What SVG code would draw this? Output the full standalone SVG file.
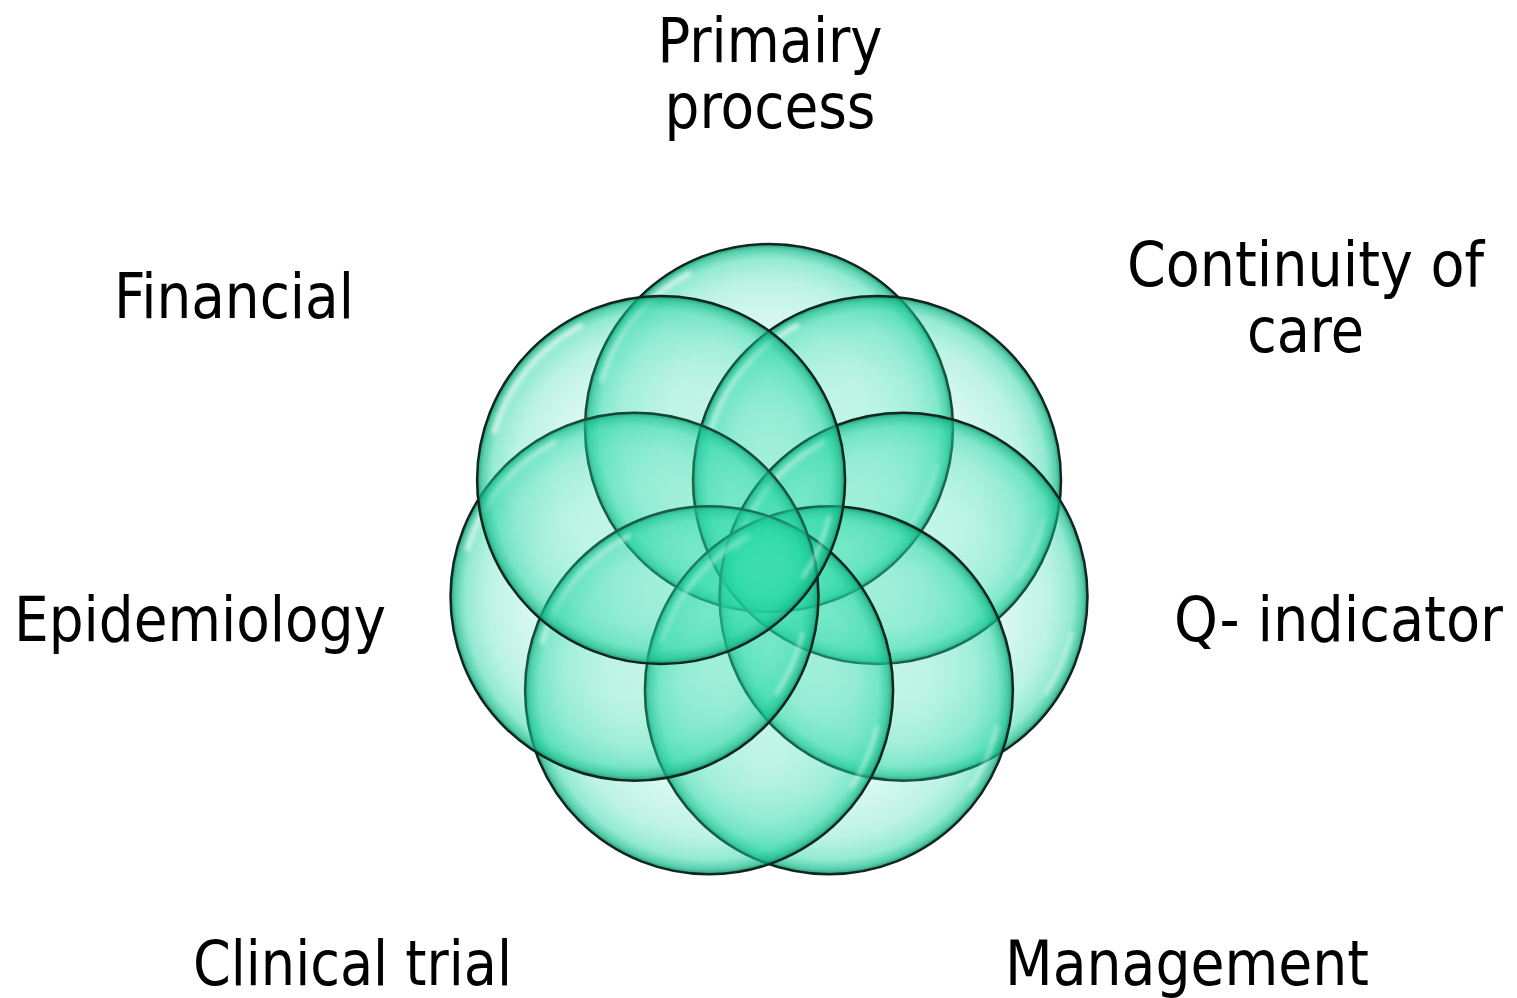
<svg xmlns="http://www.w3.org/2000/svg" xmlns:xlink="http://www.w3.org/1999/xlink" width="1517" height="998" viewBox="0 0 1517 998">
  <style>
    .lbl { font-family: "DejaVu Sans Condensed", "DejaVu Sans", Tahoma, Verdana, sans-serif; font-stretch: condensed; font-size: 62px; fill: #000; text-anchor: middle; }
    .ring { fill: url(#bubble); stroke: #10261f; stroke-width: 2.5; }
    .hl { fill: none; stroke: #ffffff; stroke-linecap: round; filter: url(#soft); }
  </style>
  <defs>
    <radialGradient id="bubble" cx="0.5" cy="0.5" r="0.5">
      <stop offset="0" stop-color="#34dfae" stop-opacity="0.12"/>
      <stop offset="0.55" stop-color="#30ddac" stop-opacity="0.18"/>
      <stop offset="0.8" stop-color="#26d8a5" stop-opacity="0.31"/>
      <stop offset="0.92" stop-color="#1fd4a0" stop-opacity="0.48"/>
      <stop offset="0.975" stop-color="#15bb8b" stop-opacity="0.72"/>
      <stop offset="1" stop-color="#0b8a64" stop-opacity="0.88"/>
    </radialGradient>
    <filter id="soft" x="-20%" y="-20%" width="140%" height="140%">
      <feGaussianBlur stdDeviation="2"/>
    </filter>
    <path id="hlA" d="M -167 -48 A 174 174 0 0 1 -80 -154.5" />
    <path id="hlB" d="M 168 37 A 172 172 0 0 1 142 97" />
  </defs>
  <rect width="1517" height="998" fill="#ffffff"/>

  <g id="node-primairy-process">
    <g transform="translate(769,428)">
      <circle class="ring" r="184"/>
      <use xlink:href="#hlA" class="hl" stroke-width="5" opacity="0.7"/>
      <use xlink:href="#hlB" class="hl" stroke-width="3.5" opacity="0.5"/>
    </g>
    <text class="lbl" x="770" y="62" textLength="225" lengthAdjust="spacingAndGlyphs">Primairy</text>
    <text class="lbl" x="770" y="128" textLength="211" lengthAdjust="spacingAndGlyphs">process</text>
  </g>

  <g id="node-continuity-of-care">
    <g transform="translate(877,480)">
      <circle class="ring" r="184"/>
      <use xlink:href="#hlA" class="hl" stroke-width="5" opacity="0.7"/>
      <use xlink:href="#hlB" class="hl" stroke-width="3.5" opacity="0.5"/>
    </g>
    <text class="lbl" x="1305.5" y="286" textLength="357" lengthAdjust="spacingAndGlyphs">Continuity of</text>
    <text class="lbl" x="1305.5" y="352" textLength="117" lengthAdjust="spacingAndGlyphs">care</text>
  </g>

  <g id="node-q-indicator">
    <g transform="translate(903.5,596.7)">
      <circle class="ring" r="184"/>
      <use xlink:href="#hlA" class="hl" stroke-width="5" opacity="0.7"/>
      <use xlink:href="#hlB" class="hl" stroke-width="3.5" opacity="0.5"/>
    </g>
    <text class="lbl" x="1338.5" y="641" textLength="329" lengthAdjust="spacingAndGlyphs">Q- indicator</text>
  </g>

  <g id="node-management">
    <g transform="translate(828.9,690.3)">
      <circle class="ring" r="184"/>
      <use xlink:href="#hlA" class="hl" stroke-width="5" opacity="0.7"/>
      <use xlink:href="#hlB" class="hl" stroke-width="3.5" opacity="0.5"/>
    </g>
    <text class="lbl" x="1187" y="985" textLength="364" lengthAdjust="spacingAndGlyphs">Management</text>
  </g>

  <g id="node-clinical-trial">
    <g transform="translate(709.1,690.3)">
      <circle class="ring" r="184"/>
      <use xlink:href="#hlA" class="hl" stroke-width="5" opacity="0.7"/>
      <use xlink:href="#hlB" class="hl" stroke-width="3.5" opacity="0.5"/>
    </g>
    <text class="lbl" x="352.5" y="985" textLength="319" lengthAdjust="spacingAndGlyphs">Clinical trial</text>
  </g>

  <g id="node-epidemiology">
    <g transform="translate(634.5,596.7)">
      <circle class="ring" r="184"/>
      <use xlink:href="#hlA" class="hl" stroke-width="5" opacity="0.7"/>
      <use xlink:href="#hlB" class="hl" stroke-width="3.5" opacity="0.5"/>
    </g>
    <text class="lbl" x="200" y="641" textLength="372" lengthAdjust="spacingAndGlyphs">Epidemiology</text>
  </g>

  <g id="node-financial">
    <g transform="translate(661.1,480)">
      <circle class="ring" r="184"/>
      <use xlink:href="#hlA" class="hl" stroke-width="5" opacity="0.7"/>
      <use xlink:href="#hlB" class="hl" stroke-width="3.5" opacity="0.5"/>
    </g>
    <text class="lbl" x="234" y="318" textLength="240" lengthAdjust="spacingAndGlyphs">Financial</text>
  </g>

  <g id="connectors"></g>
</svg>
